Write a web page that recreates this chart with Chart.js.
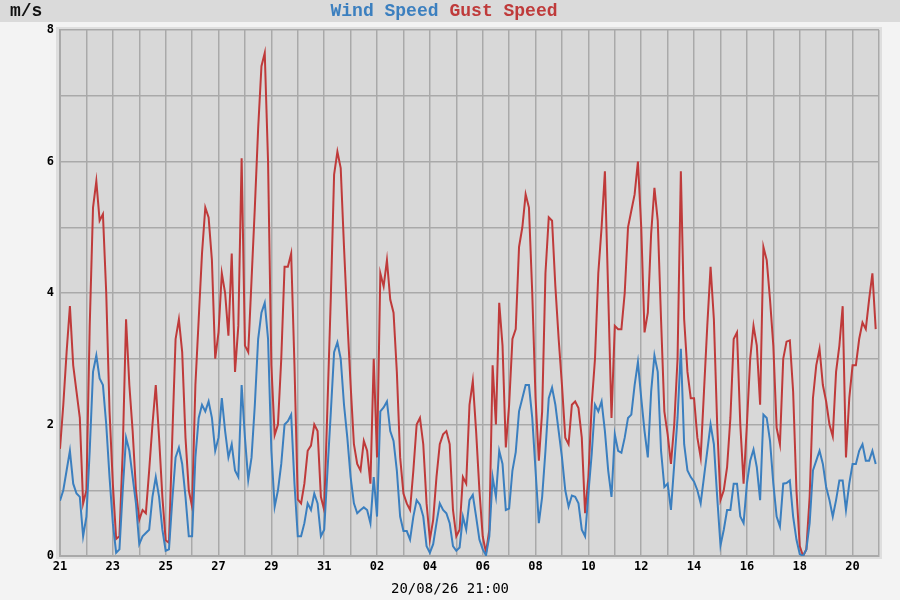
<!DOCTYPE html>
<html>
<head>
<meta charset="utf-8">
<script src="https://cdn.jsdelivr.net/npm/chart.js@4"></script>
<style>
  html, body { margin: 0; padding: 0; background: #f3f3f3; }
  #wrap { width: 900px; height: 600px; }
</style>
</head>
<body>
<div id="wrap"><canvas id="windChart"></canvas></div>
<script>
// one reading every 3 hours, starting 21 Jul 00:00
const stepHours = 3;

const dayLabels = ['21', '22', '23', '24', '25', '26', '27', '28', '29', '30', '31',
  '01', '02', '03', '04', '05', '06', '07', '08', '09', '10',
  '11', '12', '13', '14', '15', '16', '17', '18', '19', '20', '21'];

const yLabelValues = [0, 2, 4, 6, 8];

const stampText = '20/08/26 21:00';

// m/s, one row per day
const windSpeed = [
  0.84, 1.0, 1.3, 1.6, 1.1, 0.95, 0.9, 0.3,
  0.6, 1.6, 2.8, 3.05, 2.7, 2.6, 2.0, 1.2,
  0.5, 0.05, 0.1, 1.0, 1.8, 1.6, 1.2, 0.8,
  0.18, 0.3, 0.35, 0.4, 0.9, 1.2, 0.9, 0.4,
  0.08, 0.1, 0.85, 1.5, 1.65, 1.4, 0.9, 0.3,
  0.3, 1.5, 2.1, 2.3, 2.2, 2.35, 2.1, 1.6,
  1.8, 2.4, 1.9, 1.5, 1.7, 1.3, 1.2, 2.6,
  1.8, 1.16, 1.5, 2.3, 3.3, 3.7, 3.85, 3.3,
  1.6, 0.75, 1.0, 1.4, 2.0, 2.05, 2.15, 1.1,
  0.3, 0.3, 0.5, 0.8, 0.7, 0.95, 0.8, 0.3,
  0.4, 1.3, 2.18, 3.1, 3.25, 3.0, 2.3, 1.8,
  1.2, 0.8, 0.65, 0.7, 0.74, 0.7, 0.5, 1.2,
  0.6, 2.2, 2.26, 2.35, 1.9, 1.75, 1.3, 0.6,
  0.38, 0.38, 0.25, 0.6, 0.85, 0.78, 0.6, 0.15,
  0.05, 0.18, 0.5, 0.8, 0.7, 0.65, 0.5, 0.15,
  0.08, 0.13, 0.6, 0.4, 0.85, 0.93, 0.6, 0.25,
  0.1, 0.01, 0.3, 1.2, 0.9, 1.6, 1.4, 0.7,
  0.72, 1.3, 1.58, 2.2, 2.4, 2.6, 2.6, 2.1,
  1.3, 0.5, 0.9, 1.6, 2.4, 2.56, 2.3, 1.9,
  1.5, 1.0, 0.75, 0.92, 0.9, 0.8, 0.4, 0.3,
  0.95, 1.55, 2.3, 2.2, 2.35, 1.9, 1.3, 0.9,
  1.85, 1.6, 1.57, 1.8, 2.1, 2.15, 2.6, 2.95,
  2.4, 1.9, 1.5, 2.5, 3.05, 2.8, 1.6, 1.05,
  1.1, 0.7, 1.4, 2.1, 3.15, 1.7, 1.3, 1.2,
  1.13, 1.0, 0.8, 1.2, 1.6, 2.0, 1.7, 0.9,
  0.16, 0.4, 0.7, 0.7, 1.1, 1.1, 0.6, 0.5,
  1.1, 1.45, 1.62, 1.35, 0.85, 2.15, 2.1, 1.75,
  1.1, 0.6, 0.45, 1.1, 1.11, 1.15, 0.6, 0.25,
  0.03, 0.0, 0.1, 0.5, 1.3, 1.45, 1.6, 1.4,
  1.05, 0.85, 0.6, 0.85, 1.15, 1.15, 0.7, 1.1,
  1.4, 1.4, 1.6, 1.7, 1.45, 1.45, 1.6, 1.4
];

const gustSpeed = [
  1.63, 2.3, 3.1, 3.8, 2.9, 2.5, 2.1, 0.8,
  1.0, 3.5, 5.3, 5.7, 5.1, 5.2, 4.0, 2.2,
  1.1, 0.26, 0.3, 1.6, 3.6, 2.6, 1.9, 1.0,
  0.55, 0.7, 0.65, 1.3, 2.0, 2.6, 1.8, 0.9,
  0.24, 0.2, 1.8, 3.3, 3.6, 3.1, 1.8, 1.0,
  0.75, 2.6, 3.6, 4.6, 5.3, 5.15, 4.5, 3.0,
  3.4, 4.3, 4.0, 3.35, 4.6, 2.8, 3.5, 6.05,
  3.2, 3.1, 4.2, 5.3, 6.5, 7.45, 7.65, 6.0,
  2.9, 1.84, 2.0, 3.0, 4.4, 4.4, 4.6, 2.9,
  0.86, 0.8, 1.1, 1.6, 1.68, 2.0, 1.9, 0.9,
  0.7, 2.3, 3.92, 5.8, 6.15, 5.9, 4.7, 3.6,
  2.6, 1.7, 1.4, 1.3, 1.75, 1.6, 1.1, 3.0,
  1.5, 4.3, 4.1, 4.5, 3.9, 3.7, 2.8, 1.5,
  0.95, 0.8, 0.7, 1.3, 2.0, 2.1, 1.7, 0.8,
  0.25, 0.55, 1.2, 1.7, 1.85, 1.9, 1.7, 0.7,
  0.3, 0.4, 1.2, 1.1, 2.3, 2.66, 1.9, 1.0,
  0.3, 0.05, 0.4, 2.9, 2.0, 3.85, 3.2, 1.65,
  2.3, 3.3, 3.45, 4.7, 5.0, 5.5, 5.3, 4.0,
  2.4, 1.45, 2.2, 4.3, 5.15, 5.1, 4.1, 3.3,
  2.6, 1.8, 1.7, 2.3, 2.35, 2.25, 1.8, 0.65,
  1.2, 2.3, 3.0, 4.3, 5.0, 5.85, 4.0, 2.1,
  3.5, 3.45, 3.45, 4.0, 5.0, 5.25, 5.5, 6.0,
  5.0, 3.4, 3.7, 4.9, 5.6, 5.1, 3.6, 2.2,
  1.85, 1.4, 2.0, 3.0, 5.85, 3.6, 2.8, 2.4,
  2.4, 1.8, 1.5, 2.5, 3.5, 4.4, 3.6, 2.0,
  0.85, 1.0, 1.35, 2.1, 3.3, 3.4, 2.0, 1.1,
  2.0, 3.0, 3.5, 3.2, 2.3, 4.7, 4.5, 3.9,
  3.2, 1.95, 1.7, 3.0, 3.26, 3.28, 2.5, 1.0,
  0.15, 0.0, 0.1, 0.9, 2.4, 2.9, 3.15, 2.6,
  2.35, 2.0, 1.82, 2.8, 3.2, 3.8, 1.5, 2.4,
  2.9, 2.9, 3.3, 3.55, 3.45, 3.9, 4.3, 3.45
];

const gridColor = '#a9a9a9';
const tickFont = { family: 'DejaVu Sans Mono', size: 12, weight: 'bold' };

function toPoints(values) {
  return values.map((v, i) => ({ x: i * stepHours, y: v }));
}

const backdrop = {
  id: 'backdrop',
  beforeDraw(chart) {
    const { ctx, chartArea } = chart;
    const w = chartArea.right - chartArea.left;
    const h = chartArea.bottom - chartArea.top;
    ctx.save();
    ctx.fillStyle = '#f3f3f3';
    ctx.fillRect(0, 0, chart.width, chart.height);
    ctx.fillStyle = '#dadada';
    ctx.fillRect(0, 0, chart.width, 22);
    // pale frame round the plot
    ctx.fillStyle = '#dedede';
    ctx.fillRect(chartArea.left - 4, chartArea.top - 3, w + 7, h + 6);
    ctx.fillStyle = '#d8d8d8';
    ctx.fillRect(chartArea.left, chartArea.top, w, h);
    ctx.restore();
  },
  afterDraw(chart) {
    const ctx = chart.ctx;
    ctx.save();
    ctx.font = 'bold 18px "Liberation Mono"';
    ctx.fillStyle = '#111';
    ctx.textBaseline = 'middle';
    ctx.fillText('m/s', 10, 11);
    ctx.font = '14px "DejaVu Sans Mono"';
    ctx.fillStyle = '#000';
    ctx.textAlign = 'center';
    ctx.fillText(stampText, chart.width / 2, 589);
    ctx.restore();
  }
};

new Chart(document.getElementById('windChart'), {
  type: 'line',
  data: {
    datasets: [{
      label: 'Wind Speed',
      data: toPoints(windSpeed),
      borderColor: '#3b7fbf',
      borderWidth: 2,
      pointRadius: 0,
      tension: 0,
      fill: false
    }, {
      label: 'Gust Speed',
      data: toPoints(gustSpeed),
      borderColor: '#bf3a3a',
      borderWidth: 2,
      pointRadius: 0,
      tension: 0,
      fill: false
    }]
  },
  options: {
    responsive: true,
    maintainAspectRatio: false,
    animation: false,
    layout: { padding: { top: 0, left: 0, right: 21, bottom: 0 } },
    plugins: {
      tooltip: { enabled: false },
      legend: {
        position: 'top',
        labels: {
          boxWidth: 0,
          boxHeight: 18,
          padding: 2,
          font: { family: 'Liberation Mono', size: 18, weight: 'bold' },
          generateLabels: function(chart) {
            return chart.data.datasets.map((ds, i) => ({
              text: ds.label,
              fontColor: ds.borderColor,
              fillStyle: 'rgba(0,0,0,0)',
              strokeStyle: 'rgba(0,0,0,0)',
              lineWidth: 0,
              hidden: false,
              datasetIndex: i
            }));
          }
        }
      }
    },
    scales: {
      x: {
        type: 'linear',
        min: 0,
        max: (dayLabels.length - 1) * 24,
        afterBuildTicks: function(scale) {
          scale.ticks = dayLabels.map((d, i) => ({ value: i * 24 }));
        },
        afterFit: function(scale) { scale.height = 44; },
        ticks: {
          autoSkip: false,
          maxRotation: 0,
          padding: 4,
          color: '#000',
          font: tickFont,
          callback: function(value, index) {
            return index % 2 === 0 ? dayLabels[index] : '';
          }
        },
        grid: { color: gridColor, lineWidth: 1.5, drawTicks: false },
        border: { color: gridColor, width: 2 }
      },
      y: {
        min: 0,
        max: 8,
        afterFit: function(scale) { scale.width = 60; },
        ticks: {
          stepSize: 1,
          padding: 6,
          color: '#000',
          font: tickFont,
          callback: function(value) {
            return yLabelValues.includes(value) ? String(value) : '';
          }
        },
        grid: { color: gridColor, lineWidth: 1.5, drawTicks: false },
        border: { color: gridColor, width: 2 }
      }
    }
  },
  plugins: [backdrop]
});
</script>
</body>
</html>
